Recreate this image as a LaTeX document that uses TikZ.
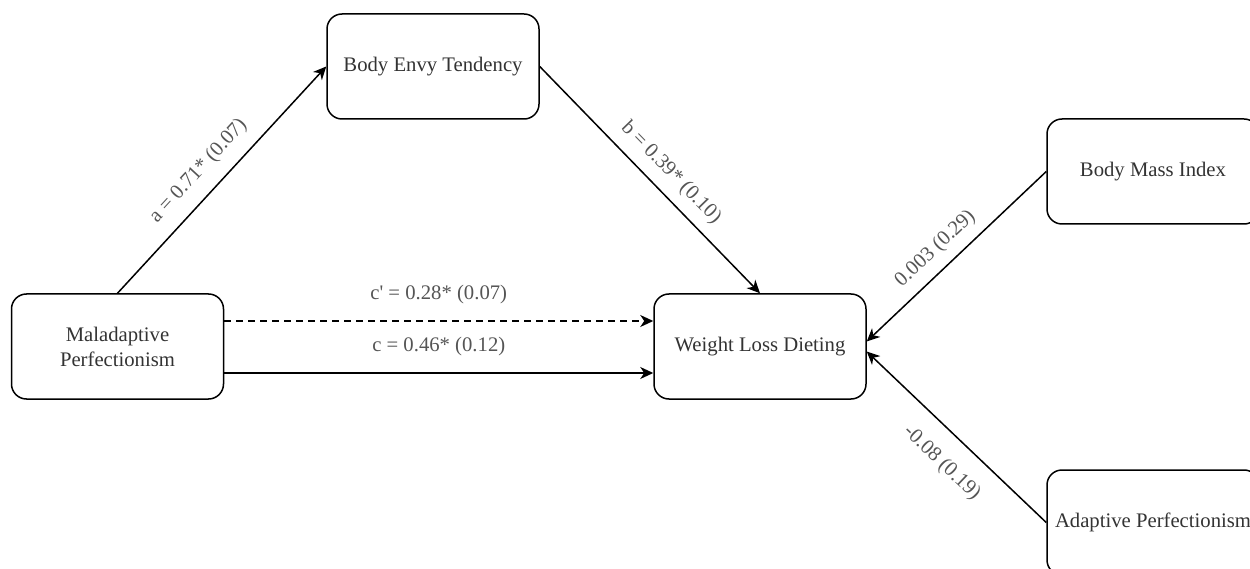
\documentclass[tikz,border=0pt]{standalone}
\usepackage{fontspec}
\setmainfont{Liberation Serif}
\usepackage{tikz}
\usetikzlibrary{arrows.meta, positioning}
\definecolor{boxtext}{HTML}{333333}
\definecolor{edgetext}{HTML}{555555}

\begin{document}
\begin{tikzpicture}[
  x=1pt, y=-1pt,
  node distance=429pt,
  >={Stealth[length=13pt,width=12pt,inset=4pt]},
  font=\fontsize{20.7}{25}\selectfont,
  block/.style={
    rectangle, rounded corners=15pt,
    draw, line width=1.5pt, align=center,
    text=boxtext, inner sep=2pt,
    minimum width=212pt,
    minimum height=105pt
  },
  link/.style={->, line width=1.5pt},
  dashlink/.style={link, dash pattern=on 7pt off 5pt},
  coef/.style={text=edgetext, inner sep=2pt, sloped},
]
\clip (0,0) rectangle (1250,569);

% --- Predictor / mediator / outcome ---
\node[block] (MP) at (117.5,346.5) {Maladaptive\\ Perfectionism};
\node[block] (BET) at (433,66.5) {Body Envy Tendency};
\node[block, right=of MP] (WLD) {Weight Loss Dieting};

% --- Covariates (cut at the right edge) ---
\node[block] (BMI) at (1153,171.5) {Body Mass Index};
\node[block] (AP) at (1153,522.5) {Adaptive Perfectionism};

% --- Paths ---
\draw[link] (MP.north) -- (BET.west)
  node[coef, pos=0.47, above=11pt] {a = 0.71* (0.07)};
\draw[link] (BET.east) -- (WLD.north)
  node[coef, pos=0.53, above=8pt] {b = 0.39* (0.10)};

\draw[dashlink] ([yshift=25.5pt]MP.east) -- ([yshift=25.5pt]WLD.west)
  node[coef, midway, above=14pt] {c\textquotesingle\ = 0.28* (0.07)};
\draw[link] ([yshift=-26.5pt]MP.east) -- ([yshift=-26.5pt]WLD.west)
  node[coef, midway, above=14pt] {c = 0.46* (0.12)};

\draw[link] (BMI.west) -- ([yshift=5pt]WLD.east)
  node[coef, pos=0.54, above=8pt] {0.003 (0.29)};
\draw[link] (AP.west) -- ([yshift=-5pt]WLD.east)
  node[coef, pos=0.47, below=17pt] {-0.08 (0.19)};

\end{tikzpicture}
\end{document}
